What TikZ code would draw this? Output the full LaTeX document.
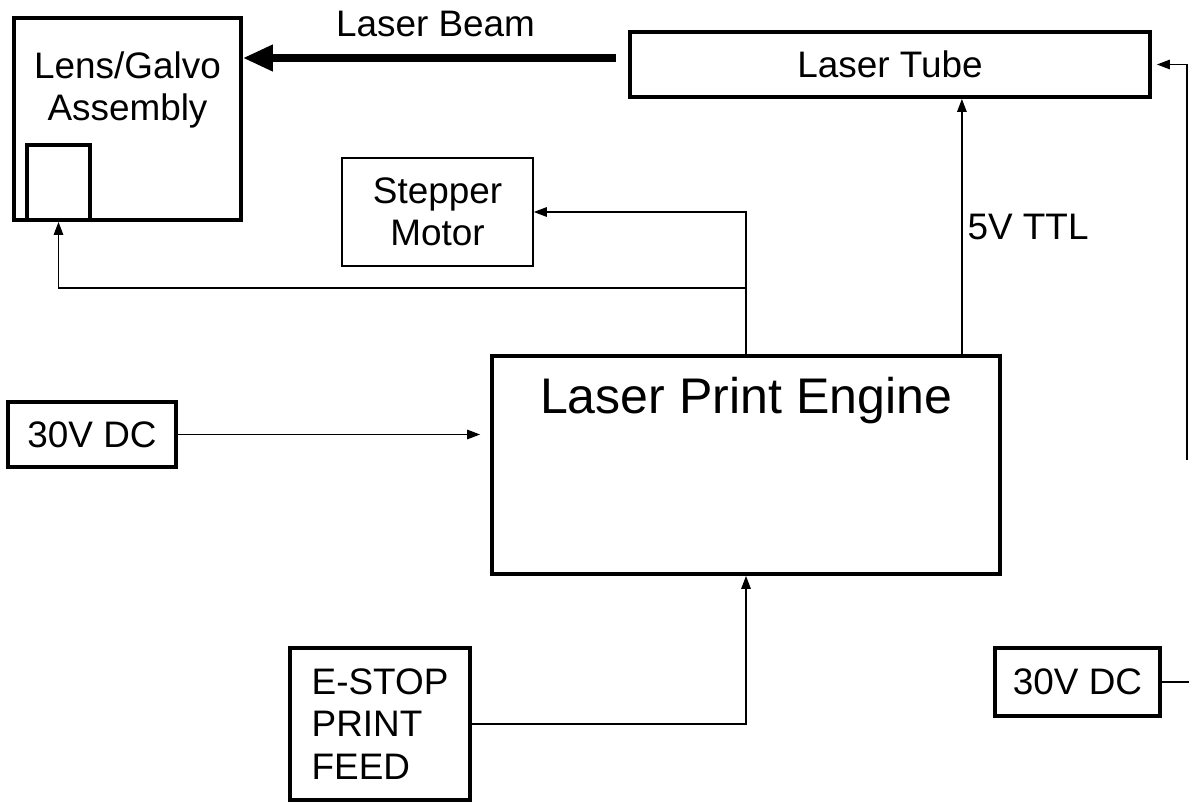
\documentclass[tikz,border=0pt]{standalone}
\usepackage{fontspec}
\setmainfont{Liberation Sans}
\usetikzlibrary{arrows.meta,positioning}

\begin{document}
\begin{tikzpicture}[x=0.02cm,y=-0.02cm,
  box/.style={draw,line width=2.2pt,inner sep=0pt,align=center,font=\fontsize{21}{24}\selectfont},
  thinbox/.style={box,line width=0.9pt},
  txt/.style={inner sep=0pt,align=center,font=\fontsize{21}{24}\selectfont},
  ar/.style={-{Triangle[length=0.26cm,width=0.19cm]},line width=0.8pt},
  beam/.style={-{Triangle[length=0.6cm,width=0.5cm]},line width=4pt}
]
\useasboundingbox (0,0) rectangle (1189,804);

\node[box,minimum width=4.54cm,minimum height=4.04cm] (lens) at (127.5,119) {};
\node[txt] (lenstxt) at (127.5,90) {Lens/Galvo\\Assembly};
\node[box,minimum width=1.26cm,minimum height=1.5cm] (galvo) at (58.5,182.5) {};
\node[box,minimum width=10.4cm,minimum height=1.3cm] (tube) at (890,64.5) {Laser Tube};
\node[thinbox,minimum width=3.82cm,minimum height=2.16cm] (stepper) at (437.5,212) {Stepper\\Motor};
\node[box,minimum width=10.16cm,minimum height=4.36cm] (engine) at (746,465) {};
\node[txt,font=\fontsize{28.5}{34}\selectfont] (enginetxt) at (746,401) {Laser Print Engine};
\node[box,minimum width=3.36cm,minimum height=1.3cm] (dcleft) at (92,434.5) {30V DC};
\node[box,minimum width=3.6cm,minimum height=3.04cm,align=left] (estop) at (380,724) {E-STOP\\PRINT\\FEED};
\node[box,minimum width=3.3cm,minimum height=1.36cm] (dcright) at (1077.5,682) {30V DC};

\coordinate (split) at (746,288);
\coordinate (feedin) at (1187,460);
\coordinate (feedout) at (1189,682);

% beam from the tube to the optics
\draw[beam,shorten <=0.24cm] ([yshift=0.13cm]tube.west) --
  node[txt,above=0.36cm] {Laser Beam} ([yshift=0.13cm]tube.west -| lens.east);

\draw[ar] (engine.north) -- (engine.north |- stepper.east) -- (stepper.east);
\draw[ar] (split) -| (galvo.south);
\draw[ar] ([xshift=-0.8cm]engine.north east) -- ([xshift=-0.8cm]engine.north east |- tube.south)
  node[txt,midway,right=0.1cm] {5V TTL};
\draw[ar,shorten >=0.2cm] (dcleft.east) -- (dcleft.east -| engine.west);
\draw[ar] (estop.east) -| (engine.south);
\draw[line width=0.8pt] (dcright.east) -- (feedout);
\draw[ar,shorten >=0.1cm] (feedin) |- (tube.east);
\end{tikzpicture}
\end{document}
